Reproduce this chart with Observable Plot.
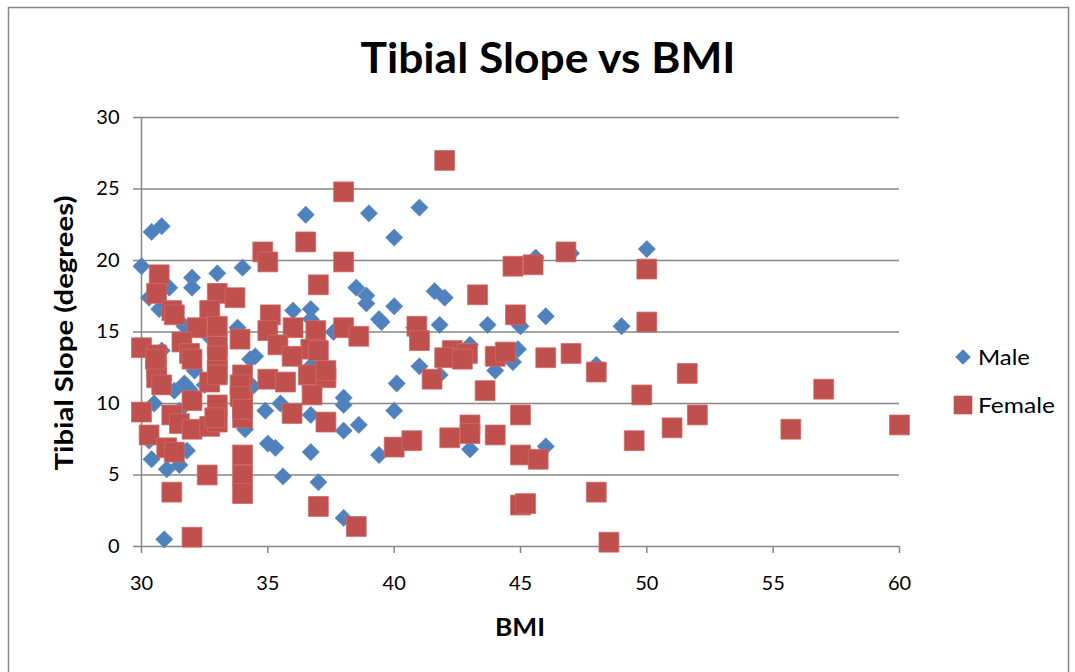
<!DOCTYPE html>
<html>
<head>
<meta charset="utf-8">
<script src="https://cdn.jsdelivr.net/npm/d3@7"></script>
<script src="https://cdn.jsdelivr.net/npm/@observablehq/plot@0.6"></script>
<style>
  html, body { margin: 0; padding: 0; background: #fff; }
  #chart { width: 1075px; height: 672px; }
</style>
</head>
<body>
<div id="chart"></div>
<script>
const titleText = "Tibial Slope vs BMI";
const xTitle = "BMI";
const yTitle = "Tibial Slope (degrees)";
const seriesNames = ["Male", "Female"];
const xTicks = [30, 35, 40, 45, 50, 55, 60];
const yTicks = [0, 5, 10, 15, 20, 25, 30];

const maleBMI = [30.0,30.4,30.8,32.0,32.0,33.0,34.0,31.1,30.3,30.7,36.5,39.0,38.5,38.9,38.9,39.4,36.0,36.7,36.7,41.0,40.0,45.6,47.0,50.0,41.6,42.0,40.0,41.8,43.7,44.9,46.0,49.0,39.5,40.8,45.0,43.0,44.9,44.7,44.0,41.0,41.8,40.1,40.0,39.4,43.0,46.0,48.0,34.5,36.75,38.0,38.0,38.6,38.0,35.5,34.9,36.7,35.0,35.3,36.7,35.6,37.0,38.0,30.9,30.4,31.0,31.5,31.8,34.1,34.3,32.1,31.3,30.5,31.5,31.7,30.8,33.8,34.4,32.5,31.9,30.3,37.6,33.0,31.7,32.6];
const maleSlope = [19.6,22.0,22.4,18.8,18.1,19.1,19.5,18.1,17.4,16.6,23.2,23.3,18.1,17.55,17.0,15.9,16.5,16.6,15.9,23.7,21.6,20.2,20.5,20.8,17.85,17.4,16.8,15.5,15.5,15.6,16.1,15.4,15.7,15.3,15.4,14.1,13.8,12.9,12.3,12.6,12.0,11.4,9.5,6.4,6.8,7.0,12.7,13.3,12.7,10.4,9.9,8.5,8.1,10.0,9.5,9.2,7.2,6.9,6.6,4.9,4.5,2.0,0.5,6.1,5.4,5.7,6.7,8.2,13.1,12.3,10.9,10.0,9.5,11.4,13.7,15.3,11.2,11.3,11.0,7.4,15.0,12.8,15.4,14.8];

const femaleBMI = [38.0,36.5,38.0,34.8,35.0,30.7,30.6,37.0,33.0,33.7,31.2,31.3,32.7,35.1,33.0,32.2,38.0,38.6,36.0,36.9,35.0,33.9,42.0,44.7,45.5,46.8,50.0,43.3,44.8,40.9,50.0,41.0,42.3,42.0,42.9,42.7,44.0,44.4,46.0,47.0,48.0,49.8,41.5,43.6,45.0,40.0,40.7,42.2,43.0,43.0,44.0,45.0,45.7,49.5,45.0,45.2,48.0,48.5,51.6,52.0,51.0,57.0,55.7,60.0,31.6,30.0,30.6,33.0,33.0,31.9,35.4,36.7,37.0,35.96,30.6,30.6,30.8,33.0,34.0,35.0,35.7,36.6,37.3,37.3,36.75,35.96,37.3,32.0,31.2,30.0,30.3,31.5,32.0,32.7,33.0,33.0,34.0,34.0,34.0,34.0,34.0,31.0,31.3,32.6,31.2,32.0,37.0,38.5,33.9,32.9,32.7,30.55,32.0,33.0,33.9,34.0];
const femaleSlope = [24.8,21.3,19.9,20.6,19.9,19.0,17.7,18.3,17.7,17.4,16.5,16.2,16.5,16.2,15.4,15.3,15.3,14.7,15.3,15.1,15.1,14.5,27.0,19.6,19.7,20.6,19.4,17.6,16.2,15.4,15.7,14.4,13.7,13.2,13.5,13.1,13.3,13.6,13.2,13.5,12.2,10.6,11.7,10.9,9.2,6.95,7.4,7.6,8.5,7.9,7.8,6.4,6.1,7.4,2.9,3.0,3.8,0.3,12.1,9.2,8.3,11.0,8.2,8.5,14.3,13.9,13.4,14.0,13.3,13.5,14.1,13.8,13.7,13.3,12.5,11.8,11.3,12.3,12.0,11.7,11.5,12.0,11.8,12.3,10.6,9.3,8.7,10.2,9.2,9.4,7.8,8.6,8.2,8.4,9.9,8.7,10.2,9.0,6.4,5.0,3.7,6.9,6.6,5.0,3.8,0.65,2.8,1.4,11.3,9.0,11.5,13.1,13.1,12.0,10.5,9.6];

const colors = ["#4F81BD", "#C0504D"];
const FONT = "Lato, 'Open Sans', sans-serif";

const male = maleBMI.map((x, i) => ({bmi: x, slope: maleSlope[i]}));
const female = femaleBMI.map((x, i) => ({bmi: x, slope: femaleSlope[i]}));

const gridColor = "#868686";

const plot = Plot.plot({
  width: 1075,
  height: 672,
  marginLeft: 141,
  marginRight: 176,
  marginTop: 117,
  marginBottom: 126,
  style: {fontFamily: FONT, fontSize: "20px", color: "black", background: "white"},
  x: {domain: [30, 60], ticks: xTicks, label: null},
  y: {domain: [0, 30], ticks: yTicks, label: null},
  marks: [
    Plot.ruleY(yTicks, {stroke: gridColor, strokeWidth: 1.5}),
    Plot.ruleX([30], {stroke: gridColor, strokeWidth: 1.5}),
    Plot.axisY({ticks: yTicks, tickSize: 8, tickPadding: 14, stroke: gridColor, strokeWidth: 1.5, fill: "black", fontSize: 20, label: null}),
    Plot.axisX({ticks: xTicks, tickSize: 7, tickPadding: 22, stroke: gridColor, strokeWidth: 1.5, fill: "black", fontSize: 20, label: null}),
    Plot.dot(male, {x: "bmi", y: "slope", symbol: "diamond2", r: 7.8, fill: colors[0], stroke: "#5a8bc6", strokeWidth: 0.6}),
    Plot.dot(female, {x: "bmi", y: "slope", symbol: "square", r: 11.2, fill: colors[1], stroke: "#cf6a67", strokeWidth: 0.8})
  ]
});

const svg = d3.select(plot);
// outer chart border
svg.insert("rect", ":first-child")
  .attr("x", 8.5).attr("y", 7.5).attr("width", 1060).attr("height", 670)
  .attr("fill", "white").attr("stroke", gridColor).attr("stroke-width", 1.5);

svg.append("text")
  .attr("x", 548).attr("y", 73)
  .attr("text-anchor", "middle")
  .attr("font-family", FONT).attr("font-weight", "bold").attr("font-size", 42)
  .attr("textLength", 375).attr("lengthAdjust", "spacingAndGlyphs")
  .attr("fill", "black")
  .text(titleText);

svg.append("text")
  .attr("x", 520).attr("y", 636)
  .attr("text-anchor", "middle")
  .attr("font-family", FONT).attr("font-weight", "bold").attr("font-size", 25)
  .attr("textLength", 50).attr("lengthAdjust", "spacingAndGlyphs")
  .attr("fill", "black")
  .text(xTitle);

svg.append("text")
  .attr("transform", "translate(73,333) rotate(-90)")
  .attr("text-anchor", "middle")
  .attr("font-family", FONT).attr("font-weight", "bold").attr("font-size", 25)
  .attr("textLength", 275).attr("lengthAdjust", "spacingAndGlyphs")
  .attr("fill", "black")
  .text(yTitle);

// legend
const legendY = [357, 405];
const legendW = [52, 77];
const legendSymbols = [d3.symbolDiamond2, d3.symbolSquare];
const legendSizes = [Math.PI * 7 * 7, Math.PI * 10.5 * 10.5];
seriesNames.forEach((name, i) => {
  svg.append("path")
    .attr("transform", `translate(963,${legendY[i]})`)
    .attr("d", d3.symbol(legendSymbols[i], legendSizes[i])())
    .attr("fill", colors[i]);
  svg.append("text")
    .attr("x", 978).attr("y", legendY[i] + 8)
    .attr("text-anchor", "start")
    .attr("font-family", FONT).attr("font-size", 21)
    .attr("textLength", legendW[i]).attr("lengthAdjust", "spacingAndGlyphs")
    .attr("fill", "black")
    .text(name);
});

document.getElementById("chart").appendChild(plot);
</script>
</body>
</html>
